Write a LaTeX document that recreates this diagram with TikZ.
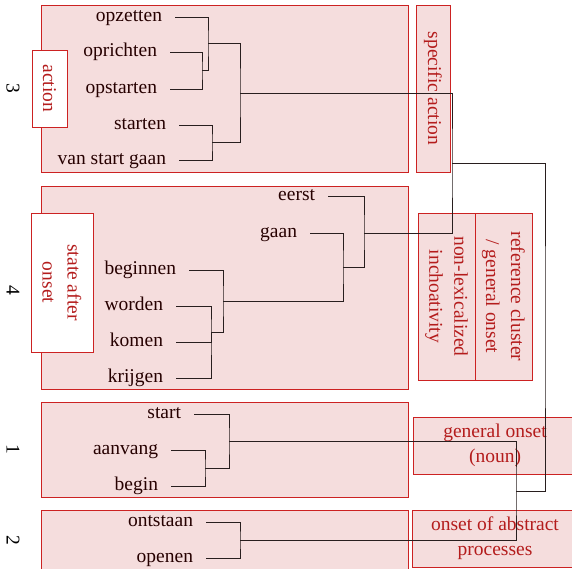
\documentclass[tikz,border=0pt]{standalone}
\usepackage{fontspec}
\setmainfont{Liberation Serif}
\definecolor{boxfill}{RGB}{245,221,221}
\definecolor{boxline}{RGB}{204,34,34}
\definecolor{redtext}{RGB}{180,28,28}
\definecolor{dendro}{RGB}{40,30,30}
\begin{document}
\fontsize{19.5}{25}\selectfont
\begin{tikzpicture}[x=1pt,y=-1pt,
  every node/.style={font=\fontsize{19.5}{25}\selectfont},
  cluster/.style={draw=boxline,fill=boxfill,line width=0.8pt},
  word/.style={anchor=mid east,inner xsep=0pt,inner ysep=0pt,outer xsep=13pt,outer ysep=0pt,text=black!85!red},
  tag/.style={draw=boxline,fill=white,line width=0.8pt,text=redtext,rotate=-90,align=center,inner sep=0pt},
  side/.style={draw=boxline,fill=boxfill,line width=0.8pt,text=redtext,align=center,inner sep=0pt},
  num/.style={rotate=-90,text=black},
  link/.style={draw=dendro,line width=0.8pt}]
\useasboundingbox (0,0) rectangle (572,569);
\clip (0,0) rectangle (572,569);
% cluster boxes
\path[cluster] (41,5) rectangle (408,172);
\path[cluster] (41,186) rectangle (408,389);
\path[cluster] (41,402) rectangle (408,497);
\path[cluster] (41,510) rectangle (408,600);
% numbers
\node[num] (n3) at (13,88) {3};
\node[num] (n4) at (13,290) {4};
\node[num] (n1) at (13,449) {1};
\node[num] (n2) at (13,540) {2};
% tags inside
\node[tag,minimum width=77pt,minimum height=35pt] (action) at (49.5,88.5) {action};
\node[tag,minimum width=139pt,minimum height=62pt] (state) at (62,282.5) {state after\\onset};
% side boxes
\node[side,rotate=-90,minimum width=167pt,minimum height=34pt] (spec) at (433,88.5) {specific action};
\node[side,rotate=-90,minimum width=167pt,minimum height=57pt] (nonlex) at (446.5,296.5) {non-lexicalized\\inchoativity};
\node[side,rotate=-90,minimum width=167pt,minimum height=57pt] (ref) at (503.5,296.5) {reference cluster\\/ general onset};
\node[side,minimum width=164pt,minimum height=57pt] (gen) at (495,445.5) {general onset\\(noun)};
\node[side,minimum width=166pt,minimum height=57pt] (abs) at (495,538.5) {onset of abstract\\processes};
% words cluster 3
\node[word] (w1) at (175,17) {opzetten};
\node[word] (w2) at (170,52) {oprichten};
\node[word] (w3) at (170,89) {opstarten};
\node[word] (w4) at (179,125) {starten};
\node[word] (w5) at (179,160) {van start gaan};
% words cluster 4
\node[word] (e1) at (328,196) {eerst};
\node[word] (e2) at (310,233) {gaan};
\node[word] (e3) at (189,270) {beginnen};
\node[word] (e4) at (176,306) {worden};
\node[word] (e5) at (176,342) {komen};
\node[word] (e6) at (176,378) {krijgen};
% words cluster 1
\node[word] (s1) at (194,414) {start};
\node[word] (s2) at (171,450) {aanvang};
\node[word] (s3) at (171,486) {begin};
% words cluster 2
\node[word] (t1) at (206,522) {ontstaan};
\node[word] (t2) at (206,558) {openen};
% join points
\coordinate (j23) at (202,70.5);
\coordinate (j123) at (208,43);
\coordinate (j45) at (212,142.5);
\coordinate (jC3) at (240,93);
\coordinate (j456) at (211,332);
\coordinate (j3456) at (223,301);
\coordinate (j23456) at (343,267);
\coordinate (jC4) at (364,233);
\coordinate (jC34) at (452,163);
\coordinate (jb) at (205,468);
\coordinate (jC1) at (229,441);
\coordinate (jC2) at (240,540);
\coordinate (jC12) at (516,491);
\coordinate (root) at (545,327);
% dendrogram
\draw[link] (w2.mid east) -| (j23) |- (w3.mid east);
\draw[link] (w1.mid east) -| (j123) |- (j23);
\draw[link] (w4.mid east) -| (j45) |- (w5.mid east);
\draw[link] (j123) -| (jC3) |- (j45);
\draw[link] (e4.mid east) -| (j456) |- (e6.mid east);
\draw[link] (e5.mid east) -| (j456);
\draw[link] (e3.mid east) -| (j3456) |- (j456);
\draw[link] (e2.mid east) -| (j23456) |- (j3456);
\draw[link] (e1.mid east) -| (jC4) |- (j23456);
\draw[link] (jC3) -| (jC34) |- (jC4);
\draw[link] (s2.mid east) -| (jb) |- (s3.mid east);
\draw[link] (s1.mid east) -| (jC1) |- (jb);
\draw[link] (t1.mid east) -| (jC2) |- (t2.mid east);
\draw[link] (jC1) -| (jC12) |- (jC2);
\draw[link] (jC34) -| (root) |- (jC12);
\end{tikzpicture}
\end{document}
